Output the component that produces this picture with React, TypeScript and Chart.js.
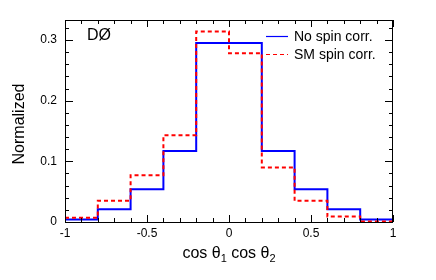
import React, { useEffect, useRef } from 'react';
import { Chart, registerables } from 'chart.js';

Chart.register(...registerables);

// ---- data ----
const binEdges = [-1, -0.8, -0.6, -0.4, -0.2, 0, 0.2, 0.4, 0.6, 0.8, 1];
const noSpinCorr = [0.004, 0.021, 0.054, 0.117, 0.295, 0.295, 0.117, 0.054, 0.021, 0.004];
const smSpinCorr = [0.007, 0.035, 0.077, 0.143, 0.314, 0.278, 0.09, 0.035, 0.009, 0.001];
const seriesLabels = ['No spin corr.', 'SM spin corr.'];
const xTickValues = [-1, -0.5, 0, 0.5, 1];
const yTickValues = [0, 0.1, 0.2, 0.3];
const yMax = 0.333;
const yTitle = 'Normalized';
const experimentLabel = 'DØ';

const FONT = "'Liberation Sans', Arial, Helvetica, sans-serif";

function histPoints(values: number[]) {
  const pts = values.map((v, i) => ({ x: binEdges[i], y: v }));
  pts.push({ x: binEdges[binEdges.length - 1], y: values[values.length - 1] });
  return pts;
}

const decorPlugin = {
  id: 'decor',
  afterDraw(chart: any) {
    const { ctx, chartArea: a, scales } = chart;
    const xs = scales.x;
    const ys = scales.y;
    ctx.save();
    ctx.strokeStyle = '#000';
    ctx.lineWidth = 1;
    ctx.beginPath();
    // x ticks (bottom and top, pointing inward)
    for (let i = 0; i <= 20; i++) {
      const v = -1 + i * 0.1;
      const px = Math.round(xs.getPixelForValue(v)) + 0.5;
      const len = i % 5 === 0 ? 7 : 4;
      ctx.moveTo(px, a.bottom);
      ctx.lineTo(px, a.bottom - len);
      ctx.moveTo(px, a.top);
      ctx.lineTo(px, a.top + len);
    }
    // y ticks (left and right)
    for (let i = 0; i * 0.02 <= yMax + 1e-9; i++) {
      const v = i * 0.02;
      const py = Math.round(ys.getPixelForValue(v)) + 0.5;
      const len = i % 5 === 0 ? 8 : 4;
      ctx.moveTo(a.left, py);
      ctx.lineTo(a.left + len, py);
      ctx.moveTo(a.right, py);
      ctx.lineTo(a.right - len, py);
    }
    ctx.stroke();
    // frame
    ctx.strokeRect(Math.round(a.left) + 0.5, Math.round(a.top) + 0.5, Math.round(a.width) - 1, Math.round(a.height));

    ctx.fillStyle = '#000';
    // experiment label
    ctx.font = `16px ${FONT}`;
    ctx.textAlign = 'left';
    ctx.textBaseline = 'alphabetic';
    ctx.fillText(experimentLabel, a.left + 22, a.top + 20);

    // legend
    const ds = chart.data.datasets;
    const legX = a.left + 201;
    const legY0 = a.top + 16;
    const rowH = 17.6;
    ctx.font = `14px ${FONT}`;
    ctx.textBaseline = 'middle';
    ds.forEach((d: any, i: number) => {
      const y = Math.round(legY0 + i * rowH) + 0.5;
      ctx.save();
      ctx.strokeStyle = d.borderColor;
      ctx.lineWidth = 1.2;
      ctx.setLineDash(d.borderDash || []);
      ctx.beginPath();
      ctx.moveTo(legX, y);
      ctx.lineTo(legX + 22, y);
      ctx.stroke();
      ctx.restore();
      ctx.fillText(d.label, legX + 28, y + 1);
    });

    // y title
    ctx.save();
    ctx.font = `16px ${FONT}`;
    ctx.translate(20, (a.top + a.bottom) / 2 + 3);
    ctx.rotate(-Math.PI / 2);
    ctx.textAlign = 'center';
    ctx.textBaseline = 'middle';
    ctx.fillText(yTitle, 0, 0);
    ctx.restore();

    // x title: cos θ1 cos θ2 with subscripts
    const parts: [string, boolean][] = [
      ['cos θ', false],
      ['1', true],
      [' cos θ', false],
      ['2', true],
    ];
    const big = `16px ${FONT}`;
    const small = `11px ${FONT}`;
    let total = 0;
    parts.forEach(([t, sub]) => {
      ctx.font = sub ? small : big;
      total += ctx.measureText(t).width;
    });
    let cx = (a.left + a.right) / 2 - total / 2;
    const base = a.bottom + 36;
    ctx.textAlign = 'left';
    ctx.textBaseline = 'alphabetic';
    parts.forEach(([t, sub]) => {
      ctx.font = sub ? small : big;
      ctx.fillText(t, cx, sub ? base + 4 : base);
      cx += ctx.measureText(t).width;
    });
    ctx.restore();
  },
};

export default function App() {
  const ref = useRef<HTMLCanvasElement | null>(null);
  useEffect(() => {
    document.body.style.margin = '0';
    const canvas = ref.current;
    if (!canvas) return;
    Chart.defaults.font.family = FONT;
    Chart.defaults.color = '#000';
    const chart = new Chart(canvas, {
      type: 'line',
      data: {
        datasets: [
          {
            label: seriesLabels[0],
            data: histPoints(noSpinCorr),
            borderColor: '#0000ff',
            borderWidth: 2,
            stepped: true,
            pointRadius: 0,
            fill: false,
            order: 1,
          },
          {
            label: seriesLabels[1],
            data: histPoints(smSpinCorr),
            borderColor: '#ff0000',
            borderWidth: 2,
            borderDash: [4, 3],
            stepped: true,
            pointRadius: 0,
            fill: false,
            order: 0,
          },
        ],
      },
      options: {
        animation: false,
        responsive: false,
        devicePixelRatio: 1,
        layout: { padding: { top: 20, right: 43, left: 0, bottom: 0 } },
        plugins: { legend: { display: false }, tooltip: { enabled: false } },
        scales: {
          x: {
            type: 'linear',
            min: -1,
            max: 1,
            grid: { display: false, drawTicks: false },
            border: { display: false },
            ticks: {
              padding: 4,
              font: { size: 12 },
              color: '#000',
              maxRotation: 0,
              callback: (v: any) => String(v),
            },
            afterBuildTicks: (s: any) => {
              s.ticks = xTickValues.map((v) => ({ value: v }));
            },
            afterFit: (s: any) => {
              s.height = 58;
            },
          },
          y: {
            type: 'linear',
            min: 0,
            max: yMax,
            grid: { display: false, drawTicks: false },
            border: { display: false },
            ticks: {
              padding: 8,
              font: { size: 12 },
              color: '#000',
              callback: (v: any) => String(v),
            },
            afterBuildTicks: (s: any) => {
              s.ticks = yTickValues.map((v) => ({ value: v }));
            },
            afterFit: (s: any) => {
              s.width = 65;
            },
          },
        },
      },
      plugins: [decorPlugin],
    });
    return () => chart.destroy();
  }, []);
  return (
    <div style={{ width: 436, height: 280 }}>
      <canvas ref={ref} width={436} height={280} style={{ display: 'block' }} />
    </div>
  );
}
